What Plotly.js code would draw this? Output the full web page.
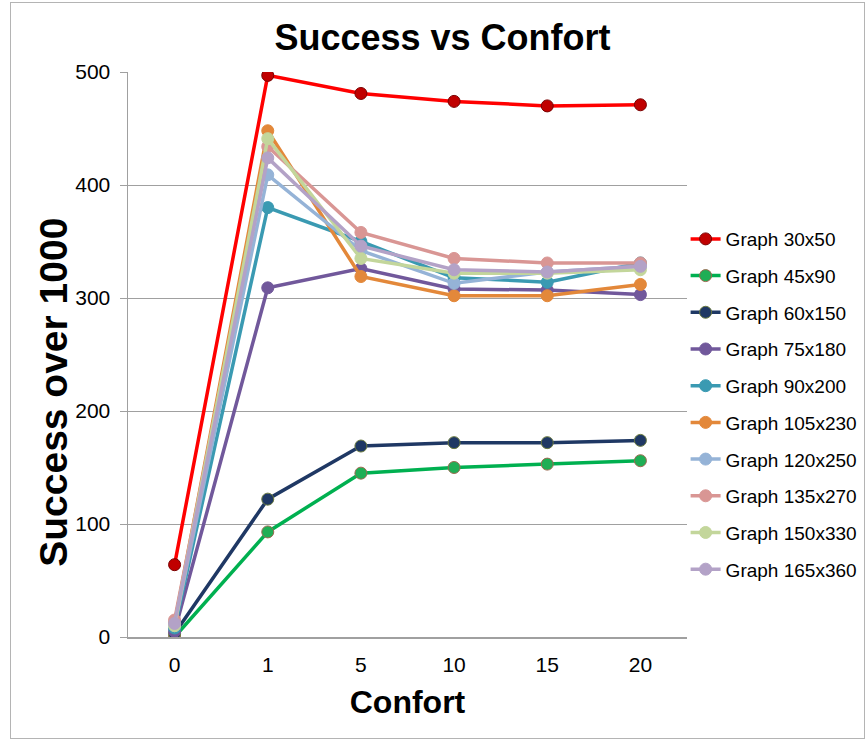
<!DOCTYPE html>
<html>
<head>
<meta charset="utf-8">
<script src="https://cdn.plot.ly/plotly-3.0.1.min.js"></script>
<style>
html,body{margin:0;padding:0;background:#fff;}
#wrap{position:relative;width:866px;height:741px;}
#chart{width:866px;height:741px;}
#frame{position:absolute;left:10px;top:2px;width:855px;height:737px;border:1px solid #b4b4b4;box-sizing:border-box;pointer-events:none;}
</style>
</head>
<body>
<div id="wrap"><div id="chart"></div><div id="frame"></div></div>
<script>
const categories = ['0', '1', '5', '10', '15', '20'];
const seriesNames = ['Graph 30x50', 'Graph 45x90', 'Graph 60x150', 'Graph 75x180', 'Graph 90x200',
  'Graph 105x230', 'Graph 120x250', 'Graph 135x270', 'Graph 150x330', 'Graph 165x360'];
const g30x50   = [64, 497, 481, 474, 470, 471];
const g45x90   = [0, 93, 145, 150, 153, 156];
const g60x150  = [3, 122, 169, 172, 172, 174];
const g75x180  = [5, 309, 326, 308, 307, 303];
const g90x200  = [8, 380, 350, 318, 314, 331];
const g105x230 = [12, 448, 319, 302, 302, 312];
const g120x250 = [10, 409, 342, 313, 323, 328];
const g135x270 = [15, 434, 358, 335, 331, 331];
const g150x330 = [10, 441, 335, 322, 322, 325];
const g165x360 = [12, 424, 346, 325, 323, 328];
const seriesValues = [g30x50, g45x90, g60x150, g75x180, g90x200, g105x230, g120x250, g135x270, g150x330, g165x360];
const lineColors = ['#ff0000', '#00b050', '#1f3864', '#71589b', '#3a9ab2', '#e3883a', '#95b3d7', '#d99694', '#c3d69b', '#b3a2c7'];
const markerColors = ['#c00000', '#1fae55', '#1f3864', '#71589b', '#3a9ab2', '#e3883a', '#95b3d7', '#d99694', '#c3d69b', '#b3a2c7'];
const markerLines = ['#7a0000', '#9a6a50', '#6a7a40', '#71589b', '#3a9ab2', '#e3883a', '#95b3d7', '#d99694', '#c3d69b', '#b3a2c7'];

const traces = seriesNames.map((name, i) => ({
  type: 'scatter',
  mode: 'lines+markers',
  name: name,
  legendgroup: 'g' + i,
  x: categories,
  y: seriesValues[i],
  line: {color: lineColors[i], width: 3.5},
  marker: {color: markerColors[i], size: 12, line: {color: markerLines[i], width: 1}}
}));

const layout = {
  width: 866, height: 741,
  margin: {l: 128, r: 179, t: 72, b: 104, autoexpand: false},
  paper_bgcolor: '#ffffff',
  plot_bgcolor: '#ffffff',
  font: {family: '"Liberation Sans", Arial, sans-serif', color: '#000'},
  title: {text: '<b>Success vs Confort</b>', font: {size: 36, color: '#000'}, x: 0.511, xanchor: 'center', y: 0.95, yanchor: 'middle'},
  xaxis: {
    type: 'category',
    range: [-0.5, 5.5],
    showgrid: false,
    zeroline: false,
    showline: true, linecolor: '#a0a0a0', linewidth: 1.5,
    ticks: '',
    ticklabelstandoff: 8,
    tickfont: {size: 21, color: '#000'},
    title: {text: '<b>Confort</b>', font: {size: 32, color: '#000'}, standoff: 16}
  },
  yaxis: {
    range: [0, 500],
    dtick: 100,
    showgrid: true, gridcolor: '#a0a0a0', gridwidth: 1,
    zeroline: false,
    showline: true, linecolor: '#a0a0a0', linewidth: 1.5,
    ticks: 'outside', ticklen: 7, tickcolor: '#a0a0a0',
    ticklabelstandoff: 5,
    tickfont: {size: 21, color: '#000'}
  },
  annotations: [{
    text: '<b>Success over 1000</b>',
    xref: 'paper', yref: 'paper',
    x: -0.1324, y: 0.434,
    xanchor: 'center', yanchor: 'middle',
    textangle: -90,
    showarrow: false,
    font: {size: 39, color: '#000'}
  }],
  legend: {
    x: 0.9975, xanchor: 'left',
    y: 0.738, yanchor: 'top',
    font: {size: 19, color: '#000'},
    traceorder: 'grouped',
    tracegroupgap: 9,
    bgcolor: 'rgba(0,0,0,0)'
  },
  showlegend: true
};

Plotly.newPlot('chart', traces, layout, {displayModeBar: false, staticPlot: true});
</script>
</body>
</html>
